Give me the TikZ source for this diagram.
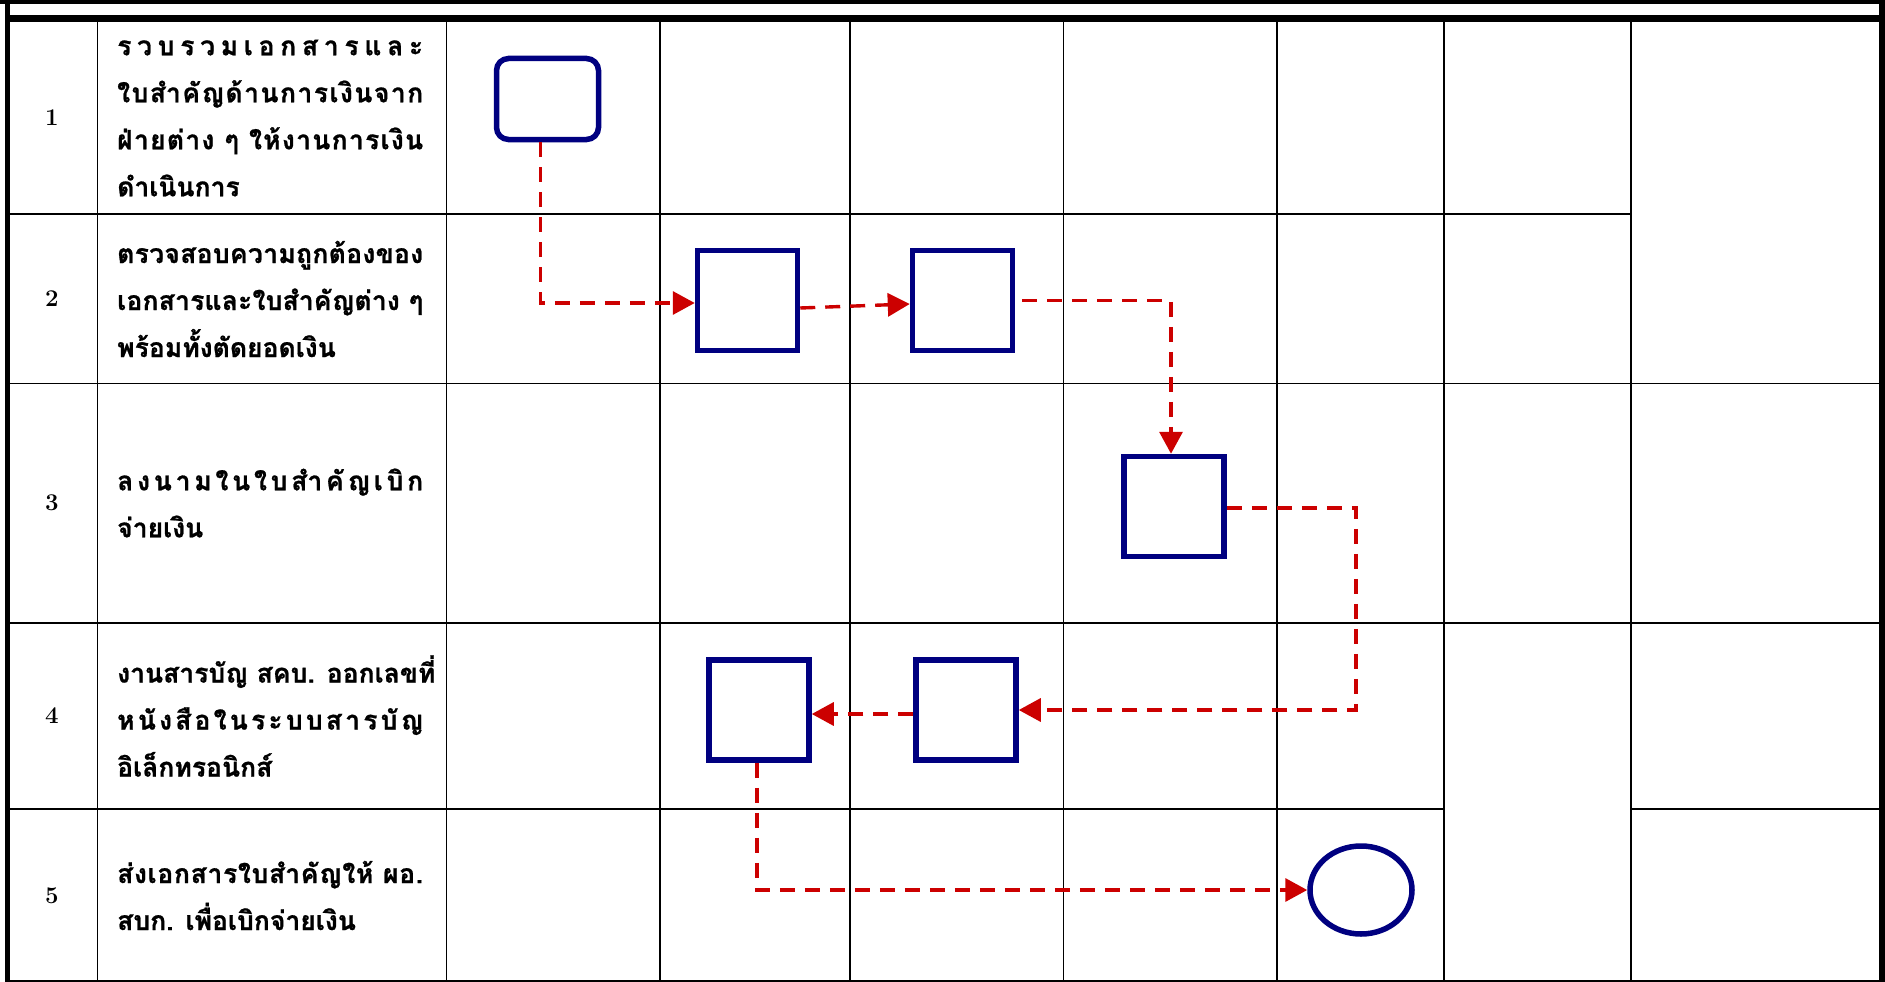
\documentclass[tikz,border=0pt]{standalone}
\usepackage{fontspec}
\newfontfamily\thaifont[Script=Thai,BoldFeatures={FakeBold=0.8}]{Loma}
\usetikzlibrary{arrows.meta,calc,shapes.geometric}
\definecolor{navyline}{RGB}{0,0,128}
\definecolor{flowred}{RGB}{204,0,0}
\begin{document}
\begin{tikzpicture}[x=1pt,y=-1pt,
  gridline/.style={line width=1.5pt,black},
  proc/.style={rectangle,draw=navyline,line width=5.5pt,minimum width=100pt,minimum height=100pt,inner sep=0pt},
  startbox/.style={rectangle,rounded corners=12pt,draw=navyline,line width=5.5pt,minimum width=102pt,minimum height=81pt,inner sep=0pt},
  endnode/.style={ellipse,draw=navyline,line width=5.5pt,minimum width=102pt,minimum height=88pt,inner sep=0pt},
  flow/.style={draw=flowred,line width=3.4pt,dash pattern=on 15pt off 10pt,-{Triangle[length=22pt,width=23pt]}},
  txt/.style={anchor=west,align=left,inner sep=0pt,font=\thaifont\bfseries\fontsize{26.5}{47}\selectfont},
  num/.style={inner sep=0pt,font=\bfseries\fontsize{24}{26}\selectfont}
]
\useasboundingbox (0,0) rectangle (1885,982);
% grid
\foreach \x in {97.5,446.5,660,850,1063.5,1277,1444,1631} \draw[gridline] (\x,21) -- (\x,982);
\draw[gridline] (7.5,214) -- (1631,214);
\draw[gridline] (7.5,383.5) -- (1882,383.5);
\draw[gridline] (7.5,623) -- (1882,623);
\draw[gridline] (7.5,809) -- (1444,809);
\draw[gridline] (1631,809) -- (1882,809);
\draw[gridline] (7.5,981.2) -- (1882,981.2);
% outer border
\draw[line width=4pt] (0,2) -- (1885,2);
\draw[line width=7pt] (7.5,18.5) -- (1882,18.5);
\draw[line width=5pt] (7.5,0) -- (7.5,982);
\draw[line width=6pt] (1882,0) -- (1882,982);
% numbers
\node[num] (n1) at (52,118) {1};
\node[num] (n2) at (52,299) {2};
\node[num] (n3) at (52,503) {3};
\node[num] (n4) at (52,716) {4};
\node[num] (n5) at (52,895.5) {5};
% texts
\node[txt] (t1) at (117,118) {\hbox to 306pt{ร\hfill ว\hfill บ\hfill ร\hfill ว\hfill ม\hfill เ\hfill อ\hfill ก\hfill ส\hfill า\hfill ร\hfill แ\hfill ล\hfill ะ}\\\hbox to 306pt{ใ\hfil บ\hfil สำ\hfil คั\hfil ญ\hfil ด้\hfil า\hfil น\hfil ก\hfil า\hfil ร\hfil เ\hfil งิ\hfil น\hfil จ\hfil า\hfil ก}\\\hbox to 306pt{ฝ่\hfil า\hfil ย\hfil ต่\hfil า\hfil ง\ \hfil ๆ\ \hfil ใ\hfil ห้\hfil ง\hfil า\hfil น\hfil ก\hfil า\hfil ร\hfil เ\hfil งิ\hfil น}\\ดำเนินการ};
\node[txt] (t2) at (117,299) {\hbox to 306pt{ต\hfil ร\hfil ว\hfil จ\hfil ส\hfil อ\hfil บ\hfil ค\hfil ว\hfil า\hfil ม\hfil ถู\hfil ก\hfil ต้\hfil อ\hfil ง\hfil ข\hfil อ\hfil ง}\\\hbox to 306pt{เ\hfil อ\hfil ก\hfil ส\hfil า\hfil ร\hfil แ\hfil ล\hfil ะ\hfil ใ\hfil บ\hfil สำ\hfil คั\hfil ญ\hfil ต่\hfil า\hfil ง\ \hfil ๆ}\\พร้อมทั้งตัดยอดเงิน};
\node[txt] (t3) at (117,503) {\hbox to 306pt{ล\hfill ง\hfill น\hfill า\hfill ม\hfill ใ\hfill น\hfill ใ\hfill บ\hfill สำ\hfill คั\hfill ญ\hfill เ\hfill บิ\hfill ก}\\จ่ายเงิน};
\node[txt] (t4) at (117,716) {งานสารบัญ สคบ. ออกเลขที่\\\hbox to 306pt{ห\hfill นั\hfill ง\hfill สื\hfill อ\hfill ใ\hfill น\hfill ร\hfill ะ\hfill บ\hfill บ\hfill ส\hfill า\hfill ร\hfill บั\hfill ญ}\\อิเล็กทรอนิกส์};
\node[txt] (t5) at (117,895.5) {\hbox to 306pt{ส่\hfil ง\hfil เ\hfil อ\hfil ก\hfil ส\hfil า\hfil ร\hfil ใ\hfil บ\hfil สำ\hfil คั\hfil ญ\hfil ใ\hfil ห้\ \hfil ผ\hfil อ\hfil .}\\สบก. เพื่อเบิกจ่ายเงิน};
% flow shapes
\node[startbox] (s) at (547.5,99) {};
\node[proc] (a) at (747.5,300.5) {};
\node[proc] (b) at (962.5,300.5) {};
\node[proc] (c) at (1174,506.5) {};
\node[proc] (d) at (966,710) {};
\node[proc] (e) at (759,710) {};
\node[endnode] (f) at (1361,890) {};
\coordinate (k4) at (1356,508);
% connectors
\draw[flow] ([xshift=-7pt]s.south) |- ([yshift=-2.5pt]a.west);
\draw[flow] ([yshift=-7.5pt]a.east) -- ([yshift=-3.5pt]b.west);
\draw[flow] ([xshift=7pt]b.east) -| ([xshift=-3pt]c.north);
\draw[flow] ([yshift=-1.5pt]c.east) -- (k4) |- (d.east);
\draw[flow] ([yshift=-4pt]d.west) -- ([yshift=-4pt]e.east);
\draw[flow] ([xshift=-2pt]e.south) |- (f.west);
\end{tikzpicture}
\end{document}
